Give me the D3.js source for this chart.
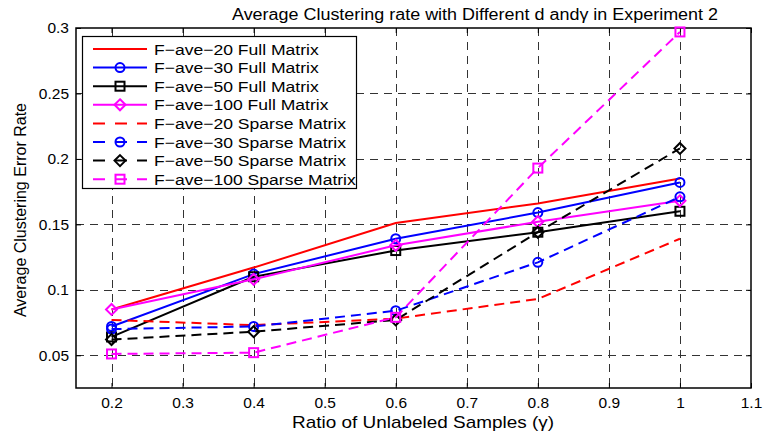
<!DOCTYPE html>
<html><head><meta charset="utf-8">
<script src="https://cdn.jsdelivr.net/npm/d3@7"></script>
<style>body{margin:0;background:#fff;}svg{display:block;font-family:"Liberation Sans",Arial,sans-serif;}</style>
</head><body>
<script>
const xVals = [0.2, 0.4, 0.6, 0.8, 1.0];
const seriesNames = ["F\u2212ave\u221220 Full Matrix","F\u2212ave\u221230 Full Matrix","F\u2212ave\u221250  Full Matrix","F\u2212ave\u2212100 Full Matrix","F\u2212ave\u221220 Sparse Matrix","F\u2212ave\u221230 Sparse Matrix","F\u2212ave\u221250 Sparse Matrix","F\u2212ave\u2212100 Sparse Matrix"];
const f20Full    = [0.085, 0.117, 0.151, 0.166, 0.185];
const f30Full    = [0.072, 0.112, 0.139, 0.159, 0.182];
const f50Full    = [0.064, 0.110, 0.130, 0.144, 0.160];
const f100Full   = [0.085, 0.108, 0.134, 0.152, 0.168];
const f20Sparse  = [0.077, 0.073, 0.078, 0.093, 0.139];
const f30Sparse  = [0.070, 0.072, 0.084, 0.121, 0.171];
const f50Sparse  = [0.062, 0.068, 0.077, 0.144, 0.208];
const f100Sparse = [0.051, 0.052, 0.079, 0.193, 0.297];
const seriesValues = [f20Full, f30Full, f50Full, f100Full, f20Sparse, f30Sparse, f50Sparse, f100Sparse];
const seriesColors = ["#ff0000","#0000ff","#000000","#ff00ff","#ff0000","#0000ff","#000000","#ff00ff"];
const seriesDashed = [false,false,false,false,true,true,true,true];
const seriesMarkers = ["none","circle","square","diamond","none","circle","diamond","square"];
const xTicks = [0.2,0.3,0.4,0.5,0.6,0.7,0.8,0.9,1.0,1.1];
const yTicks = [0.05,0.1,0.15,0.2,0.25,0.3];
const xDomain = [0.15, 1.1];
const yDomain = [0.025, 0.3];

const W = 763, H = 435;
const L = 76, R = 751, T = 28, B = 388;
const svg = d3.select("body").append("svg").attr("width", W).attr("height", H);
const x = d3.scaleLinear().domain(xDomain).range([L, R]);
const y = d3.scaleLinear().domain(yDomain).range([B, T]);

// grid
const grid = svg.append("g").attr("stroke", "#333").attr("stroke-width", 1).attr("stroke-dasharray", "8,6");
grid.selectAll(".vg").data(xTicks.filter(t => t < 1.09)).enter().append("line")
  .attr("x1", d => Math.round(x(d)) + 0.5).attr("x2", d => Math.round(x(d)) + 0.5)
  .attr("y1", T).attr("y2", B);
grid.selectAll(".hg").data(yTicks.filter(t => t < 0.299)).enter().append("line")
  .attr("y1", d => Math.round(y(d)) + 0.5).attr("y2", d => Math.round(y(d)) + 0.5)
  .attr("x1", L).attr("x2", R);

// axes
const fmt = d => String(+d.toFixed(2));
const axB = svg.append("g").attr("transform", `translate(0,${B})`)
  .call(d3.axisBottom(x).tickValues(xTicks).tickFormat(fmt).tickSizeInner(-5).tickSizeOuter(0).tickPadding(9));
const axL = svg.append("g").attr("transform", `translate(${L},0)`)
  .call(d3.axisLeft(y).tickValues(yTicks).tickFormat(fmt).tickSizeInner(-5).tickSizeOuter(0).tickPadding(7));
const axT = svg.append("g").attr("transform", `translate(0,${T})`)
  .call(d3.axisTop(x).tickValues(xTicks).tickFormat("").tickSizeInner(-5).tickSizeOuter(0));
const axR = svg.append("g").attr("transform", `translate(${R},0)`)
  .call(d3.axisRight(y).tickValues(yTicks).tickFormat("").tickSizeInner(-5).tickSizeOuter(0));
[axB, axL, axT, axR].forEach(a => {
  a.select(".domain").remove();
  a.selectAll("line").attr("stroke", "#000");
  a.selectAll("text").attr("font-size", 15.5).attr("fill", "#000").attr("font-family", "Liberation Sans, Arial, sans-serif");
});
svg.append("rect").attr("x", L).attr("y", T).attr("width", R - L).attr("height", B - T)
  .attr("fill", "none").attr("stroke", "#000").attr("stroke-width", 1.5);

// markers
function drawMarker(g, type, cx, cy, color) {
  if (type === "circle") g.append("circle").attr("cx", cx).attr("cy", cy).attr("r", 4.5)
    .attr("fill", "none").attr("stroke", color).attr("stroke-width", 2);
  else if (type === "square") g.append("rect").attr("x", cx - 4.5).attr("y", cy - 4.5).attr("width", 9).attr("height", 9)
    .attr("fill", "none").attr("stroke", color).attr("stroke-width", 2);
  else if (type === "diamond") g.append("path").attr("d", `M${cx},${cy-5.5}L${cx+5.5},${cy}L${cx},${cy+5.5}L${cx-5.5},${cy}Z`)
    .attr("fill", "none").attr("stroke", color).attr("stroke-width", 2);
}

const line = d3.line().x(d => x(d[0])).y(d => y(d[1]));
const plot = svg.append("g");
seriesValues.forEach((vals, i) => {
  const pts = xVals.map((xv, j) => [xv, vals[j]]);
  const g = plot.append("g");
  g.append("path").attr("d", line(pts)).attr("fill", "none").attr("stroke", seriesColors[i])
    .attr("stroke-width", 2).attr("stroke-dasharray", seriesDashed[i] ? "10,6" : null);
  pts.forEach(p => drawMarker(g, seriesMarkers[i], x(p[0]), y(p[1]), seriesColors[i]));
});

// legend
const lg = svg.append("g");
lg.append("rect").attr("x", 82.5).attr("y", 36.5).attr("width", 274).attr("height", 152)
  .attr("fill", "#fff").attr("stroke", "#000").attr("stroke-width", 1.2);
seriesNames.forEach((name, i) => {
  const yy = 49 + i * 18.6;
  lg.append("line").attr("x1", 93).attr("x2", 147).attr("y1", yy).attr("y2", yy)
    .attr("stroke", seriesColors[i]).attr("stroke-width", 2).attr("stroke-dasharray", seriesDashed[i] ? "12,10" : null);
  drawMarker(lg, seriesMarkers[i], 120, yy, seriesColors[i]);
  lg.append("text").attr("transform", `translate(154,${yy + 5.5}) scale(1.17,1)`).attr("font-size", 15).text(name);
});

// titles
svg.append("text").attr("x", 232).attr("y", 20).attr("font-size", 16)
  .attr("textLength", 486).attr("lengthAdjust", "spacingAndGlyphs")
  .text("Average Clustering rate with Different d and\u03b3 in Experiment 2");
svg.append("text").attr("x", 292).attr("y", 428).attr("font-size", 17)
  .attr("textLength", 262).attr("lengthAdjust", "spacingAndGlyphs")
  .text("Ratio of Unlabeled Samples (\u03b3)");
svg.append("text").attr("transform", `translate(26,${(T + B) / 2 + 2}) rotate(-90)`).attr("text-anchor", "middle").attr("font-size", 16)
  .text("Average Clustering Error Rate");
</script>
</body></html>
